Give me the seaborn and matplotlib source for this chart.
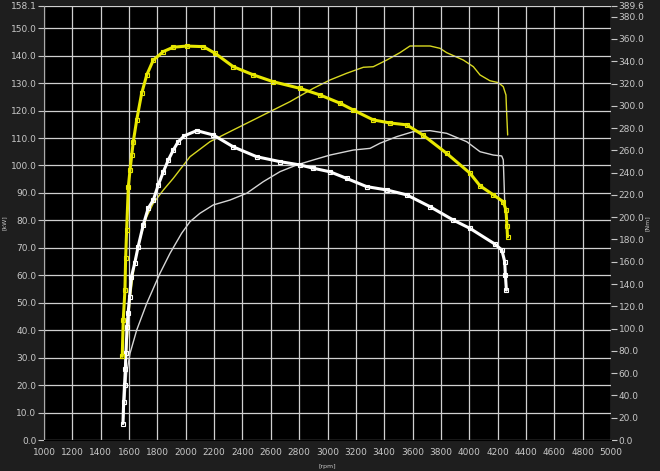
import numpy as np
import pandas as pd
import matplotlib
matplotlib.use("Agg")
import matplotlib.pyplot as plt
import seaborn as sns

sns.set_style("dark")
plt.rcParams['font.family'] = ['DejaVu Sans']

# yellow curve with square markers (left axis)
yel_mark_rpm = [1552, 1559, 1571, 1576, 1583, 1595, 1607, 1619, 1630, 1654, 1689, 1725, 1771,
                1842, 1912, 2007, 2124, 2206, 2335, 2477, 2618, 2806, 2947, 3088, 3182, 3323,
                3440, 3559, 3676, 3841, 4005, 4076, 4170, 4240, 4259, 4266, 4270]
yel_mark_val = [30.5, 43.7, 54.6, 66.3, 76.5, 92.3, 98.4, 103.8, 108.7, 116.6, 126.3, 133.0, 138.4,
                141.5, 143.1, 143.5, 143.3, 140.9, 136.0, 133.0, 130.5, 128.1, 125.7, 122.7, 120.2, 116.6,
                115.5, 114.8, 111.0, 104.4, 97.2, 92.6, 89.3, 86.8, 83.8, 78.0, 74.0]

# white curve with square markers (left axis)
wht_mark_rpm = [1557, 1562, 1568, 1574, 1578, 1586, 1593, 1604, 1617, 1640, 1664, 1700, 1735, 1771,
                1806, 1842, 1877, 1912, 1947, 1990, 2077, 2195, 2335, 2500, 2665, 2806, 2900, 3018,
                3135, 3276, 3417, 3559, 3723, 3888, 4005, 4180, 4230, 4250, 4255, 4262]
wht_mark_val = [6.0, 14.0, 20.0, 26.0, 31.6, 41.3, 46.1, 52.2, 59.5, 64.4, 70.4, 78.3, 84.4, 87.4,
                92.9, 97.7, 102.0, 105.6, 108.7, 110.8, 112.7, 111.1, 106.8, 103.2, 101.4, 100.2, 99.0, 97.7,
                95.3, 92.3, 91.1, 89.3, 85.0, 80.1, 77.1, 71.4, 69.2, 65.0, 60.0, 54.6]

# thin yellow line (right axis)
yel_line_rpm = [1557, 1578, 1607, 1642, 1689, 1725, 1771, 1842, 1912, 2030, 2171, 2335, 2477, 2642,
                2735, 2900, 3018, 3135, 3253, 3323, 3418, 3511, 3582, 3723, 3794, 3841, 3958, 4029,
                4076, 4146, 4205, 4240, 4259, 4264, 4271]
yel_line_val = [22.4, 71.8, 125.7, 161.6, 185.6, 200.5, 212.5, 224.4, 234.9, 254.3, 267.8, 278.3, 287.3, 297.8,
                303.7, 315.7, 323.2, 329.2, 334.6, 335.1, 341.1, 347.7, 353.7, 353.7, 351.6, 347.7, 341.1, 335.1,
                327.7, 322.5, 320.8, 317.2, 309.7, 293.3, 273.8]

# thin white line (right axis)
wht_line_rpm = [1559, 1583, 1607, 1654, 1725, 1818, 1889, 1971, 2030, 2100, 2194, 2312, 2430, 2547,
                2665, 2783, 2900, 3018, 3182, 3300, 3370, 3488, 3605, 3723, 3841, 3982, 4076, 4170,
                4229, 4240, 4245, 4252, 4259]
wht_line_val = [15.0, 59.9, 77.8, 98.7, 122.7, 149.6, 167.6, 185.6, 196.0, 203.5, 211.0, 215.4, 221.5, 231.9,
                240.9, 246.9, 251.4, 255.8, 260.3, 261.8, 266.4, 272.3, 276.8, 277.7, 275.3, 267.8, 258.8, 255.8,
                255.0, 251.4, 233.4, 206.5, 202.0]

x_ticks = list(range(1000, 5001, 200))
left_ticks = [i * 10.0 for i in range(16)] + [158.1]
right_ticks = [i * 20.0 for i in range(20)] + [389.6]

bg = '#1e1e1e'
txt = '#c8c8c8'
yellow = '#e8e800'

fig = plt.figure(figsize=(6.6, 4.71), dpi=100, facecolor=bg)
ax = fig.add_axes([44 / 660, 31 / 471, 567 / 660, 434 / 471])
ax.set_facecolor('black')
ax2 = ax.twinx()

df_ym = pd.DataFrame({'rpm': yel_mark_rpm, 'val': yel_mark_val})
df_wm = pd.DataFrame({'rpm': wht_mark_rpm, 'val': wht_mark_val})
df_yl = pd.DataFrame({'rpm': yel_line_rpm, 'val': yel_line_val})
df_wl = pd.DataFrame({'rpm': wht_line_rpm, 'val': wht_line_val})

sns.lineplot(data=df_yl, x='rpm', y='val', ax=ax2, color='#d8d820', lw=1.0)
sns.lineplot(data=df_wl, x='rpm', y='val', ax=ax2, color='#d6d6d6', lw=1.0)
sns.lineplot(data=df_wm, x='rpm', y='val', ax=ax, color='white', lw=2.2,
             marker='s', markersize=3.5, markerfacecolor='none', markeredgecolor='white', markeredgewidth=0.8)
sns.lineplot(data=df_ym, x='rpm', y='val', ax=ax, color=yellow, lw=2.2,
             marker='s', markersize=3.5, markerfacecolor='none', markeredgecolor=yellow, markeredgewidth=0.8)

ax.set_xlim(1000, 5000)
ax.set_ylim(0, 158.1)
ax2.set_ylim(0, 389.6)
ax.set_xticks(x_ticks)
ax.set_xticklabels([str(t) for t in x_ticks])
ax.set_yticks(left_ticks)
ax.set_yticklabels(['%.1f' % t for t in left_ticks])
ax2.set_yticks(right_ticks)
ax2.set_yticklabels(['%.1f' % t for t in right_ticks])

ax.grid(True, color='#d0d0d0', lw=0.9)
ax2.grid(False)
ax.set_axisbelow(True)
ax2.set_zorder(ax.get_zorder() - 1)
ax.patch.set_visible(False)
ax2.patch.set_visible(True)
ax2.patch.set_facecolor('black')

for a in (ax, ax2):
    a.tick_params(colors=txt, labelsize=6.5, length=4, width=0.8, direction='out', pad=1.5)
    for s in a.spines.values():
        s.set_visible(False)
ax.spines['left'].set_visible(True)
ax.spines['left'].set_color('#aaaaaa')
ax.spines['bottom'].set_visible(True)
ax.spines['bottom'].set_color('black')
ax.tick_params(axis='x', pad=2)

ax.set_xlabel('[rpm]', color=txt, fontsize=4.5)
ax.xaxis.set_label_coords(0.5, -0.055)
ax.set_ylabel('[kW]', color=txt, fontsize=4.5)
ax.yaxis.set_label_coords(-0.065, 0.5)
ax2.set_ylabel('[Nm]', color=txt, fontsize=4.5)
ax2.yaxis.set_label_coords(1.06, 0.5)

fig.savefig('out.png', dpi=100, facecolor=bg)
